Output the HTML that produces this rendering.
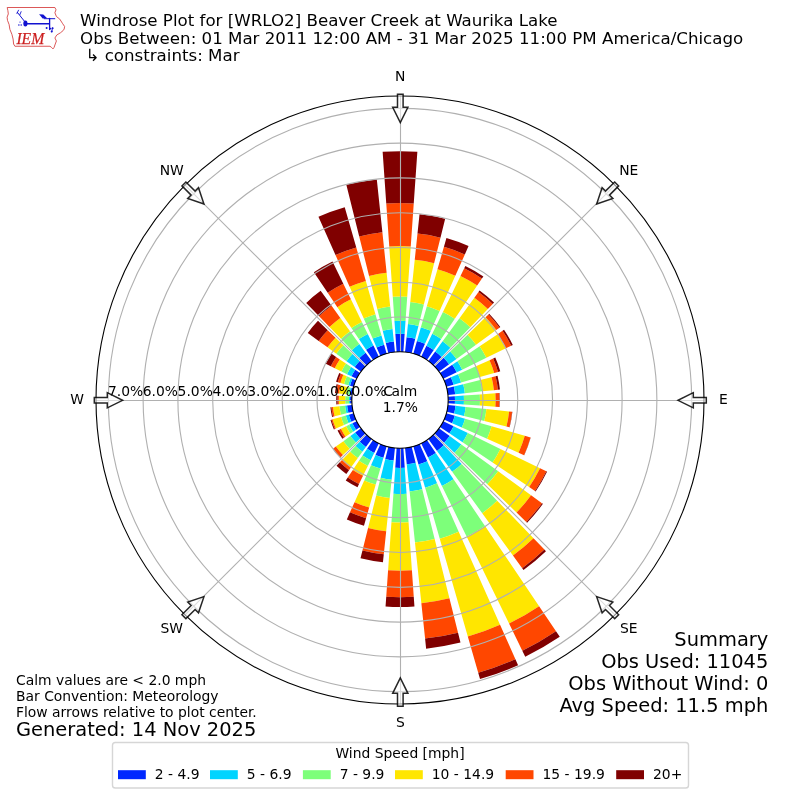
<!DOCTYPE html>
<html lang="en"><head><meta charset="utf-8"><title>Windrose Plot for [WRLO2] Beaver Creek at Waurika Lake</title>
<style>
html,body{margin:0;padding:0;background:#fff;}
body{width:800px;height:800px;overflow:hidden;}
svg{display:block;}
text{font-family:"DejaVu Sans","Liberation Sans",sans-serif;fill:#000;}
.t12{font-size:16.67px;}
.t10{font-size:13.89px;}
.t14{font-size:19.44px;}
.grid{fill:none;stroke:#b0b0b0;stroke-width:1.11;}
.spine{fill:none;stroke:#000;stroke-width:1.11;}
.arrow{fill:#fff;fill-opacity:.55;stroke:#000;stroke-opacity:.85;stroke-width:1.5;stroke-linejoin:miter;}
</style></head><body>
<svg width="800" height="800" viewBox="0 0 800 800">
<rect width="800" height="800" fill="#fff"/>

<g id="logo">
<path d="M7.2 7.5L54.9 7.5L56 9.75L54.9 12.75L56.4 16.5L59.75 19.1L62.4 23.25L64.6 26.5L64.2 29L63.2 30.5L60.5 32.75L56.75 35L54.9 38L56.4 41L55.25 44L54.1 47.4L53 48.9L51.5 47.4L50 46.25L14.9 46.25L13.6 44L13.1 39.1L11.9 34.3L9.9 29.4L9.1 24.5L7.5 20.4L7.1 17.2L8.3 13.9L7.9 10.7Z" fill="none" stroke="#d43a3a" stroke-width="0.85" stroke-linejoin="round"/>
<path d="M26.5 23.8L49.3 23.8" stroke="#1212d0" stroke-width="1.4" fill="none" stroke-linecap="round"/>
<path d="M24.4 21.2L17.4 12.4" stroke="#1212d0" stroke-width="1.0" fill="none" stroke-linecap="round"/>
<path d="M17.4 12.4L16.9 13.6" stroke="#1212d0" stroke-width="0.8" fill="none" stroke-linecap="round"/>
<path d="M17.4 12.4L18.5 10.2" stroke="#1212d0" stroke-width="0.9" fill="none" stroke-linecap="round"/>
<path d="M19.9 14.6L21.1 11.7" stroke="#1212d0" stroke-width="0.9" fill="none" stroke-linecap="round"/>
<ellipse cx="25.4" cy="23.5" rx="2.1" ry="3" fill="#1212d0"/>
<path d="M49.6 18.3L49.6 29.5" stroke="#1212d0" stroke-width="1.3" fill="none" stroke-linecap="round"/>
<path d="M44.2 18.7L54.8 18.7" stroke="#1212d0" stroke-width="1.0" fill="none" stroke-linecap="round"/>
<path d="M39.1 14.2L43.3 14.6L47.2 18.2L42.6 18.5Z" fill="#1212d0"/>
<circle cx="20" cy="22.1" r="0.55" fill="#1212d0"/>
<circle cx="18.9" cy="25.1" r="0.75" fill="#1212d0"/>
<circle cx="21.2" cy="25.1" r="0.75" fill="#1212d0"/>
<circle cx="46.6" cy="27.9" r="1.0" fill="#1212d0"/>
<circle cx="50.4" cy="28.6" r="0.9" fill="#1212d0"/>
<circle cx="52.6" cy="28.3" r="1.0" fill="#1212d0"/>
<circle cx="51.7" cy="31.6" r="1.0" fill="#1212d0"/>
<path d="M52.4 28L51.8 31.8" stroke="#1212d0" stroke-width="0.9" fill="none" stroke-linecap="round"/>
<text x="16.4" y="43.8" textLength="27.9" lengthAdjust="spacingAndGlyphs" style="font-family:'Liberation Serif',serif;font-style:italic;font-size:17.6px;fill:#cc1f1f;stroke:#cc1f1f;stroke-width:0.25">IEM</text>
</g>
<text class="t12" x="80.1" y="25.8">Windrose Plot for [WRLO2] Beaver Creek at Waurika Lake</text>
<text class="t12" x="80.1" y="43.6">Obs Between: 01 Mar 2011 12:00 AM - 31 Mar 2025 11:00 PM America/Chicago</text>
<text class="t12" x="80.1" y="60.6" style="white-space:pre"> ↳ constraints: Mar</text>
<g id="bars">
<path d="M396.64 351.92L395.38 333.96A66.20 66.20 0 0 1 404.62 333.96L403.36 351.92A48.20 48.20 0 0 0 396.64 351.92Z" fill="#0028ff"/>
<path d="M395.38 333.96L394.47 320.89A79.30 79.30 0 0 1 405.53 320.89L404.62 333.96A66.20 66.20 0 0 0 395.38 333.96Z" fill="#00d4ff"/>
<path d="M394.47 320.89L392.78 296.75A103.50 103.50 0 0 1 407.22 296.75L405.53 320.89A79.30 79.30 0 0 0 394.47 320.89Z" fill="#7dff7a"/>
<path d="M392.78 296.75L389.26 246.47A153.90 153.90 0 0 1 410.74 246.47L407.22 296.75A103.50 103.50 0 0 0 392.78 296.75Z" fill="#ffe600"/>
<path d="M389.26 246.47L386.26 203.58A196.90 196.90 0 0 1 413.74 203.58L410.74 246.47A153.90 153.90 0 0 0 389.26 246.47Z" fill="#ff4700"/>
<path d="M386.26 203.58L382.64 151.81A248.80 248.80 0 0 1 417.36 151.81L413.74 203.58A196.90 196.90 0 0 0 386.26 203.58Z" fill="#800000"/>
<path d="M405.04 352.06L406.59 337.35A63.00 63.00 0 0 1 415.24 338.87L411.66 353.23A48.20 48.20 0 0 0 405.04 352.06Z" fill="#0028ff"/>
<path d="M406.59 337.35L407.98 324.12A76.30 76.30 0 0 1 418.46 325.97L415.24 338.87A63.00 63.00 0 0 0 406.59 337.35Z" fill="#00d4ff"/>
<path d="M407.98 324.12L410.30 302.04A98.50 98.50 0 0 1 423.83 304.43L418.46 325.97A76.30 76.30 0 0 0 407.98 324.12Z" fill="#7dff7a"/>
<path d="M410.30 302.04L414.74 259.77A141.00 141.00 0 0 1 434.11 263.19L423.83 304.43A98.50 98.50 0 0 0 410.30 302.04Z" fill="#ffe600"/>
<path d="M414.74 259.77L417.49 233.62A167.30 167.30 0 0 1 440.47 237.67L434.11 263.19A141.00 141.00 0 0 0 414.74 259.77Z" fill="#ff4700"/>
<path d="M417.49 233.62L419.52 214.32A186.70 186.70 0 0 1 445.17 218.85L440.47 237.67A167.30 167.30 0 0 0 417.49 233.62Z" fill="#800000"/>
<path d="M413.29 353.67L416.95 340.88A61.50 61.50 0 0 1 425.01 343.82L419.60 355.97A48.20 48.20 0 0 0 413.29 353.67Z" fill="#0028ff"/>
<path d="M416.95 340.88L420.89 327.14A75.80 75.80 0 0 1 430.83 330.75L425.01 343.82A61.50 61.50 0 0 0 416.95 340.88Z" fill="#00d4ff"/>
<path d="M420.89 327.14L426.85 306.37A97.40 97.40 0 0 1 439.62 311.02L430.83 330.75A75.80 75.80 0 0 0 420.89 327.14Z" fill="#7dff7a"/>
<path d="M426.85 306.37L437.49 269.27A136.00 136.00 0 0 1 455.32 275.76L439.62 311.02A97.40 97.40 0 0 0 426.85 306.37Z" fill="#ffe600"/>
<path d="M437.49 269.27L443.94 246.77A159.40 159.40 0 0 1 464.83 254.38L455.32 275.76A136.00 136.00 0 0 0 437.49 269.27Z" fill="#ff4700"/>
<path d="M443.94 246.77L446.44 238.03A168.50 168.50 0 0 1 468.54 246.07L464.83 254.38A159.40 159.40 0 0 0 443.94 246.77Z" fill="#800000"/>
<path d="M421.13 356.68L426.43 345.80A60.30 60.30 0 0 1 433.72 350.01L426.95 360.04A48.20 48.20 0 0 0 421.13 356.68Z" fill="#0028ff"/>
<path d="M426.43 345.80L432.26 333.85A73.60 73.60 0 0 1 441.16 338.98L433.72 350.01A60.30 60.30 0 0 0 426.43 345.80Z" fill="#00d4ff"/>
<path d="M432.26 333.85L442.96 311.92A98.00 98.00 0 0 1 454.80 318.75L441.16 338.98A73.60 73.60 0 0 0 432.26 333.85Z" fill="#7dff7a"/>
<path d="M442.96 311.92L460.50 275.97A138.00 138.00 0 0 1 477.17 285.59L454.80 318.75A98.00 98.00 0 0 0 442.96 311.92Z" fill="#ffe600"/>
<path d="M460.50 275.97L464.22 268.33A146.50 146.50 0 0 1 481.92 278.55L477.17 285.59A138.00 138.00 0 0 0 460.50 275.97Z" fill="#ff4700"/>
<path d="M464.22 268.33L465.36 265.99A149.10 149.10 0 0 1 483.38 276.39L481.92 278.55A146.50 146.50 0 0 0 464.22 268.33Z" fill="#800000"/>
<path d="M428.33 361.01L435.21 351.54A59.90 59.90 0 0 1 441.61 356.91L433.48 365.33A48.20 48.20 0 0 0 428.33 361.01Z" fill="#0028ff"/>
<path d="M435.21 351.54L442.61 341.35A72.50 72.50 0 0 1 450.36 347.85L441.61 356.91A59.90 59.90 0 0 0 435.21 351.54Z" fill="#00d4ff"/>
<path d="M442.61 341.35L459.48 318.13A101.20 101.20 0 0 1 470.30 327.20L450.36 347.85A72.50 72.50 0 0 0 442.61 341.35Z" fill="#7dff7a"/>
<path d="M459.48 318.13L474.35 297.66A126.50 126.50 0 0 1 487.87 309.00L470.30 327.20A101.20 101.20 0 0 0 459.48 318.13Z" fill="#ffe600"/>
<path d="M474.35 297.66L478.47 292.00A133.50 133.50 0 0 1 492.74 303.97L487.87 309.00A126.50 126.50 0 0 0 474.35 297.66Z" fill="#ff4700"/>
<path d="M478.47 292.00L479.59 290.46A135.40 135.40 0 0 1 494.06 302.60L492.74 303.97A133.50 133.50 0 0 0 478.47 292.00Z" fill="#800000"/>
<path d="M434.67 366.52L443.66 357.83A60.70 60.70 0 0 1 449.11 364.32L438.99 371.67A48.20 48.20 0 0 0 434.67 366.52Z" fill="#0028ff"/>
<path d="M443.66 357.83L450.21 351.51A69.80 69.80 0 0 1 456.47 358.97L449.11 364.32A60.70 60.70 0 0 0 443.66 357.83Z" fill="#00d4ff"/>
<path d="M450.21 351.51L467.62 334.70A94.00 94.00 0 0 1 476.05 344.75L456.47 358.97A69.80 69.80 0 0 0 450.21 351.51Z" fill="#7dff7a"/>
<path d="M467.62 334.70L485.60 317.34A119.00 119.00 0 0 1 496.27 330.05L476.05 344.75A94.00 94.00 0 0 0 467.62 334.70Z" fill="#ffe600"/>
<path d="M485.60 317.34L488.48 314.56A123.00 123.00 0 0 1 499.51 327.70L496.27 330.05A119.00 119.00 0 0 0 485.60 317.34Z" fill="#ff4700"/>
<path d="M488.48 314.56L489.20 313.86A124.00 124.00 0 0 1 500.32 327.11L499.51 327.70A123.00 123.00 0 0 0 488.48 314.56Z" fill="#800000"/>
<path d="M439.96 373.05L452.31 364.71A63.10 63.10 0 0 1 456.71 372.34L443.32 378.87A48.20 48.20 0 0 0 439.96 373.05Z" fill="#0028ff"/>
<path d="M452.31 364.71L457.37 361.30A69.20 69.20 0 0 1 462.20 369.66L456.71 372.34A63.10 63.10 0 0 0 452.31 364.71Z" fill="#00d4ff"/>
<path d="M457.37 361.30L479.67 346.26A96.10 96.10 0 0 1 486.37 357.87L462.20 369.66A69.20 69.20 0 0 0 457.37 361.30Z" fill="#7dff7a"/>
<path d="M479.67 346.26L497.66 334.13A117.80 117.80 0 0 1 505.88 348.36L486.37 357.87A96.10 96.10 0 0 0 479.67 346.26Z" fill="#ffe600"/>
<path d="M497.66 334.13L502.55 330.83A123.70 123.70 0 0 1 511.18 345.77L505.88 348.36A117.80 117.80 0 0 0 497.66 334.13Z" fill="#ff4700"/>
<path d="M502.55 330.83L504.04 329.82A125.50 125.50 0 0 1 512.80 344.98L511.18 345.77A123.70 123.70 0 0 0 502.55 330.83Z" fill="#800000"/>
<path d="M444.03 380.40L450.88 377.34A55.70 55.70 0 0 1 453.54 384.65L446.33 386.71A48.20 48.20 0 0 0 444.03 380.40Z" fill="#0028ff"/>
<path d="M450.88 377.34L458.10 374.13A63.60 63.60 0 0 1 461.14 382.47L453.54 384.65A55.70 55.70 0 0 0 450.88 377.34Z" fill="#00d4ff"/>
<path d="M458.10 374.13L475.92 366.20A83.10 83.10 0 0 1 479.88 377.09L461.14 382.47A63.60 63.60 0 0 0 458.10 374.13Z" fill="#7dff7a"/>
<path d="M475.92 366.20L489.53 360.14A98.00 98.00 0 0 1 494.20 372.99L479.88 377.09A83.10 83.10 0 0 0 475.92 366.20Z" fill="#ffe600"/>
<path d="M489.53 360.14L493.18 358.51A102.00 102.00 0 0 1 498.05 371.88L494.20 372.99A98.00 98.00 0 0 0 489.53 360.14Z" fill="#ff4700"/>
<path d="M493.18 358.51L495.28 357.58A104.30 104.30 0 0 1 500.26 371.25L498.05 371.88A102.00 102.00 0 0 0 493.18 358.51Z" fill="#800000"/>
<path d="M446.77 388.34L453.85 386.57A55.50 55.50 0 0 1 455.20 394.20L447.94 394.96A48.20 48.20 0 0 0 446.77 388.34Z" fill="#0028ff"/>
<path d="M453.85 386.57L463.26 384.23A65.20 65.20 0 0 1 464.84 393.18L455.20 394.20A55.50 55.50 0 0 0 453.85 386.57Z" fill="#00d4ff"/>
<path d="M463.26 384.23L480.15 380.02A82.60 82.60 0 0 1 482.15 391.37L464.84 393.18A65.20 65.20 0 0 0 463.26 384.23Z" fill="#7dff7a"/>
<path d="M480.15 380.02L491.60 377.16A94.40 94.40 0 0 1 493.88 390.13L482.15 391.37A82.60 82.60 0 0 0 480.15 380.02Z" fill="#ffe600"/>
<path d="M491.60 377.16L495.57 376.17A98.50 98.50 0 0 1 497.96 389.70L493.88 390.13A94.40 94.40 0 0 0 491.60 377.16Z" fill="#ff4700"/>
<path d="M495.57 376.17L497.51 375.69A100.50 100.50 0 0 1 499.95 389.49L497.96 389.70A98.50 98.50 0 0 0 495.57 376.17Z" fill="#800000"/>
<path d="M448.08 396.64L454.87 396.16A55.00 55.00 0 0 1 454.87 403.84L448.08 403.36A48.20 48.20 0 0 0 448.08 396.64Z" fill="#0028ff"/>
<path d="M454.87 396.16L463.84 395.54A64.00 64.00 0 0 1 463.84 404.46L454.87 403.84A55.00 55.00 0 0 0 454.87 396.16Z" fill="#00d4ff"/>
<path d="M463.84 395.54L479.81 394.42A80.00 80.00 0 0 1 479.81 405.58L463.84 404.46A64.00 64.00 0 0 0 463.84 395.54Z" fill="#7dff7a"/>
<path d="M479.81 394.42L495.37 393.33A95.60 95.60 0 0 1 495.37 406.67L479.81 405.58A80.00 80.00 0 0 0 479.81 394.42Z" fill="#ffe600"/>
<path d="M495.37 393.33L499.16 393.07A99.40 99.40 0 0 1 499.16 406.93L495.37 406.67A95.60 95.60 0 0 0 495.37 393.33Z" fill="#ff4700"/>
<path d="M499.16 393.07L499.56 393.04A99.80 99.80 0 0 1 499.56 406.96L499.16 406.93A99.40 99.40 0 0 0 499.16 393.07Z" fill="#800000"/>
<path d="M447.94 405.04L455.49 405.83A55.80 55.80 0 0 1 454.14 413.50L446.77 411.66A48.20 48.20 0 0 0 447.94 405.04Z" fill="#0028ff"/>
<path d="M455.49 405.83L465.64 406.90A66.00 66.00 0 0 1 464.04 415.97L454.14 413.50A55.80 55.80 0 0 0 455.49 405.83Z" fill="#00d4ff"/>
<path d="M465.64 406.90L486.42 409.08A86.90 86.90 0 0 1 484.32 421.02L464.04 415.97A66.00 66.00 0 0 0 465.64 406.90Z" fill="#7dff7a"/>
<path d="M486.42 409.08L509.10 411.47A109.70 109.70 0 0 1 506.44 426.54L484.32 421.02A86.90 86.90 0 0 0 486.42 409.08Z" fill="#ffe600"/>
<path d="M509.10 411.47L512.08 411.78A112.70 112.70 0 0 1 509.35 427.26L506.44 426.54A109.70 109.70 0 0 0 509.10 411.47Z" fill="#ff4700"/>
<path d="M512.08 411.78L512.38 411.81A113.00 113.00 0 0 1 509.64 427.34L509.35 427.26A112.70 112.70 0 0 0 512.08 411.78Z" fill="#800000"/>
<path d="M446.33 413.29L454.79 415.71A57.00 57.00 0 0 1 452.07 423.18L444.03 419.60A48.20 48.20 0 0 0 446.33 413.29Z" fill="#0028ff"/>
<path d="M454.79 415.71L465.08 418.66A67.70 67.70 0 0 1 461.85 427.54L452.07 423.18A57.00 57.00 0 0 0 454.79 415.71Z" fill="#00d4ff"/>
<path d="M465.08 418.66L491.61 426.27A95.30 95.30 0 0 1 487.06 438.76L461.85 427.54A67.70 67.70 0 0 0 465.08 418.66Z" fill="#7dff7a"/>
<path d="M491.61 426.27L524.77 435.78A129.80 129.80 0 0 1 518.58 452.79L487.06 438.76A95.30 95.30 0 0 0 491.61 426.27Z" fill="#ffe600"/>
<path d="M524.77 435.78L530.54 437.43A135.80 135.80 0 0 1 524.06 455.23L518.58 452.79A129.80 129.80 0 0 0 524.77 435.78Z" fill="#ff4700"/>
<path d="M530.54 437.43L530.73 437.49A136.00 136.00 0 0 1 524.24 455.32L524.06 455.23A135.80 135.80 0 0 0 530.54 437.43Z" fill="#800000"/>
<path d="M443.32 421.13L453.57 426.13A59.60 59.60 0 0 1 449.41 433.33L439.96 426.95A48.20 48.20 0 0 0 443.32 421.13Z" fill="#0028ff"/>
<path d="M453.57 426.13L467.86 433.10A75.50 75.50 0 0 1 462.59 442.22L449.41 433.33A59.60 59.60 0 0 0 453.57 426.13Z" fill="#00d4ff"/>
<path d="M467.86 433.10L500.40 448.97A111.70 111.70 0 0 1 492.60 462.46L462.59 442.22A75.50 75.50 0 0 0 467.86 433.10Z" fill="#7dff7a"/>
<path d="M500.40 448.97L540.03 468.30A155.80 155.80 0 0 1 529.16 487.12L492.60 462.46A111.70 111.70 0 0 0 500.40 448.97Z" fill="#ffe600"/>
<path d="M540.03 468.30L546.32 471.37A162.80 162.80 0 0 1 534.97 491.04L529.16 487.12A155.80 155.80 0 0 0 540.03 468.30Z" fill="#ff4700"/>
<path d="M546.32 471.37L547.04 471.72A163.60 163.60 0 0 1 535.63 491.48L534.97 491.04A162.80 162.80 0 0 0 546.32 471.37Z" fill="#800000"/>
<path d="M438.99 428.33L449.67 436.09A61.40 61.40 0 0 1 444.17 442.65L434.67 433.48A48.20 48.20 0 0 0 438.99 428.33Z" fill="#0028ff"/>
<path d="M449.67 436.09L461.32 444.55A75.80 75.80 0 0 1 454.53 452.66L444.17 442.65A61.40 61.40 0 0 0 449.67 436.09Z" fill="#00d4ff"/>
<path d="M461.32 444.55L498.21 471.36A121.40 121.40 0 0 1 487.33 484.33L454.53 452.66A75.80 75.80 0 0 0 461.32 444.55Z" fill="#7dff7a"/>
<path d="M498.21 471.36L531.06 495.22A162.00 162.00 0 0 1 516.53 512.53L487.33 484.33A121.40 121.40 0 0 0 498.21 471.36Z" fill="#ffe600"/>
<path d="M531.06 495.22L541.98 503.16A175.50 175.50 0 0 1 526.24 521.91L516.53 512.53A162.00 162.00 0 0 0 531.06 495.22Z" fill="#ff4700"/>
<path d="M541.98 503.16L542.95 503.86A176.70 176.70 0 0 1 527.11 522.75L526.24 521.91A175.50 175.50 0 0 0 541.98 503.16Z" fill="#800000"/>
<path d="M433.48 434.67L443.76 445.32A63.00 63.00 0 0 1 437.03 450.97L428.33 438.99A48.20 48.20 0 0 0 433.48 434.67Z" fill="#0028ff"/>
<path d="M443.76 445.32L461.69 463.88A88.80 88.80 0 0 1 452.20 471.84L437.03 450.97A63.00 63.00 0 0 0 443.76 445.32Z" fill="#00d4ff"/>
<path d="M461.69 463.88L497.18 500.64A139.90 139.90 0 0 1 482.23 513.18L452.20 471.84A88.80 88.80 0 0 0 461.69 463.88Z" fill="#7dff7a"/>
<path d="M497.18 500.64L533.51 538.26A192.20 192.20 0 0 1 512.97 555.49L482.23 513.18A139.90 139.90 0 0 0 497.18 500.64Z" fill="#ffe600"/>
<path d="M533.51 538.26L544.42 549.55A207.90 207.90 0 0 1 522.20 568.19L512.97 555.49A192.20 192.20 0 0 0 533.51 538.26Z" fill="#ff4700"/>
<path d="M544.42 549.55L545.95 551.13A210.10 210.10 0 0 1 523.49 569.97L522.20 568.19A207.90 207.90 0 0 0 544.42 549.55Z" fill="#800000"/>
<path d="M426.95 439.96L435.79 453.06A64.00 64.00 0 0 1 428.06 457.52L421.13 443.32A48.20 48.20 0 0 0 426.95 439.96Z" fill="#0028ff"/>
<path d="M435.79 453.06L453.51 479.34A95.70 95.70 0 0 1 441.95 486.01L428.06 457.52A64.00 64.00 0 0 0 435.79 453.06Z" fill="#00d4ff"/>
<path d="M453.51 479.34L485.00 526.01A152.00 152.00 0 0 1 466.63 536.62L441.95 486.01A95.70 95.70 0 0 0 453.51 479.34Z" fill="#7dff7a"/>
<path d="M485.00 526.01L539.13 606.26A248.80 248.80 0 0 1 509.07 623.62L466.63 536.62A152.00 152.00 0 0 0 485.00 526.01Z" fill="#ffe600"/>
<path d="M539.13 606.26L556.01 631.30A279.00 279.00 0 0 1 522.31 650.76L509.07 623.62A248.80 248.80 0 0 0 539.13 606.26Z" fill="#ff4700"/>
<path d="M556.01 631.30L559.76 636.86A285.70 285.70 0 0 1 525.24 656.79L522.31 650.76A279.00 279.00 0 0 0 556.01 631.30Z" fill="#800000"/>
<path d="M419.60 444.03L427.25 461.21A67.00 67.00 0 0 1 418.47 464.40L413.29 446.33A48.20 48.20 0 0 0 419.60 444.03Z" fill="#0028ff"/>
<path d="M427.25 461.21L437.09 483.32A91.20 91.20 0 0 1 425.14 487.67L418.47 464.40A67.00 67.00 0 0 0 427.25 461.21Z" fill="#00d4ff"/>
<path d="M437.09 483.32L458.69 531.82A144.30 144.30 0 0 1 439.77 538.71L425.14 487.67A91.20 91.20 0 0 0 437.09 483.32Z" fill="#7dff7a"/>
<path d="M458.69 531.82L500.06 624.73A246.00 246.00 0 0 1 467.81 636.47L439.77 538.71A144.30 144.30 0 0 0 458.69 531.82Z" fill="#ffe600"/>
<path d="M500.06 624.73L515.43 659.26A283.80 283.80 0 0 1 478.23 672.81L467.81 636.47A246.00 246.00 0 0 0 500.06 624.73Z" fill="#ff4700"/>
<path d="M515.43 659.26L518.08 665.20A290.30 290.30 0 0 1 480.02 679.05L478.23 672.81A283.80 283.80 0 0 0 515.43 659.26Z" fill="#800000"/>
<path d="M411.66 446.77L415.63 462.68A64.60 64.60 0 0 1 406.75 464.25L405.04 447.94A48.20 48.20 0 0 0 411.66 446.77Z" fill="#0028ff"/>
<path d="M415.63 462.68L422.26 489.27A92.00 92.00 0 0 1 409.62 491.50L406.75 464.25A64.60 64.60 0 0 0 415.63 462.68Z" fill="#00d4ff"/>
<path d="M422.26 489.27L434.67 539.04A143.30 143.30 0 0 1 414.98 542.51L409.62 491.50A92.00 92.00 0 0 0 422.26 489.27Z" fill="#7dff7a"/>
<path d="M434.67 539.04L449.42 598.23A204.30 204.30 0 0 1 421.36 603.18L414.98 542.51A143.30 143.30 0 0 0 434.67 539.04Z" fill="#ffe600"/>
<path d="M449.42 598.23L458.04 632.77A239.90 239.90 0 0 1 425.08 638.59L421.36 603.18A204.30 204.30 0 0 0 449.42 598.23Z" fill="#ff4700"/>
<path d="M458.04 632.77L460.48 642.57A250.00 250.00 0 0 1 426.13 648.63L425.08 638.59A239.90 239.90 0 0 0 458.04 632.77Z" fill="#800000"/>
<path d="M403.36 448.08L404.74 467.83A68.00 68.00 0 0 1 395.26 467.83L396.64 448.08A48.20 48.20 0 0 0 403.36 448.08Z" fill="#0028ff"/>
<path d="M404.74 467.83L406.56 493.77A94.00 94.00 0 0 1 393.44 493.77L395.26 467.83A68.00 68.00 0 0 0 404.74 467.83Z" fill="#00d4ff"/>
<path d="M406.56 493.77L408.55 522.20A122.50 122.50 0 0 1 391.45 522.20L393.44 493.77A94.00 94.00 0 0 0 406.56 493.77Z" fill="#7dff7a"/>
<path d="M408.55 522.20L411.91 570.33A170.75 170.75 0 0 1 388.09 570.33L391.45 522.20A122.50 122.50 0 0 0 408.55 522.20Z" fill="#ffe600"/>
<path d="M411.91 570.33L413.76 596.72A197.20 197.20 0 0 1 386.24 596.72L388.09 570.33A170.75 170.75 0 0 0 411.91 570.33Z" fill="#ff4700"/>
<path d="M413.76 596.72L414.45 606.60A207.10 207.10 0 0 1 385.55 606.60L386.24 596.72A197.20 197.20 0 0 0 413.76 596.72Z" fill="#800000"/>
<path d="M394.96 447.94L393.63 460.57A60.90 60.90 0 0 1 385.27 459.09L388.34 446.77A48.20 48.20 0 0 0 394.96 447.94Z" fill="#0028ff"/>
<path d="M393.63 460.57L391.62 479.76A80.20 80.20 0 0 1 380.60 477.82L385.27 459.09A60.90 60.90 0 0 0 393.63 460.57Z" fill="#00d4ff"/>
<path d="M391.62 479.76L389.70 497.96A98.50 98.50 0 0 1 376.17 495.57L380.60 477.82A80.20 80.20 0 0 0 391.62 479.76Z" fill="#7dff7a"/>
<path d="M389.70 497.96L386.20 531.28A132.00 132.00 0 0 1 368.07 528.08L376.17 495.57A98.50 98.50 0 0 0 389.70 497.96Z" fill="#ffe600"/>
<path d="M386.20 531.28L383.78 554.35A155.20 155.20 0 0 1 362.45 550.59L368.07 528.08A132.00 132.00 0 0 0 386.20 531.28Z" fill="#ff4700"/>
<path d="M383.78 554.35L382.94 562.31A163.20 163.20 0 0 1 360.52 558.35L362.45 550.59A155.20 155.20 0 0 0 383.78 554.35Z" fill="#800000"/>
<path d="M386.71 446.33L383.41 457.87A60.20 60.20 0 0 1 375.51 455.00L380.40 444.03A48.20 48.20 0 0 0 386.71 446.33Z" fill="#0028ff"/>
<path d="M383.41 457.87L380.35 468.54A71.30 71.30 0 0 1 371.00 465.14L375.51 455.00A60.20 60.20 0 0 0 383.41 457.87Z" fill="#00d4ff"/>
<path d="M380.35 468.54L375.74 484.59A88.00 88.00 0 0 1 364.21 480.39L371.00 465.14A71.30 71.30 0 0 0 380.35 468.54Z" fill="#7dff7a"/>
<path d="M375.74 484.59L369.18 507.47A111.80 111.80 0 0 1 354.53 502.13L364.21 480.39A88.00 88.00 0 0 0 375.74 484.59Z" fill="#ffe600"/>
<path d="M369.18 507.47L366.10 518.24A123.00 123.00 0 0 1 349.97 512.37L354.53 502.13A111.80 111.80 0 0 0 369.18 507.47Z" fill="#ff4700"/>
<path d="M366.10 518.24L363.97 525.64A130.70 130.70 0 0 1 346.84 519.40L349.97 512.37A123.00 123.00 0 0 0 366.10 518.24Z" fill="#800000"/>
<path d="M378.87 443.32L374.18 452.94A58.90 58.90 0 0 1 367.06 448.83L373.05 439.96A48.20 48.20 0 0 0 378.87 443.32Z" fill="#0028ff"/>
<path d="M374.18 452.94L370.63 460.22A67.00 67.00 0 0 1 362.53 455.55L367.06 448.83A58.90 58.90 0 0 0 374.18 452.94Z" fill="#00d4ff"/>
<path d="M370.63 460.22L367.82 465.97A73.40 73.40 0 0 1 358.96 460.85L362.53 455.55A67.00 67.00 0 0 0 370.63 460.22Z" fill="#7dff7a"/>
<path d="M367.82 465.97L363.05 475.77A84.30 84.30 0 0 1 352.86 469.89L358.96 460.85A73.40 73.40 0 0 0 367.82 465.97Z" fill="#ffe600"/>
<path d="M363.05 475.77L359.01 484.04A93.50 93.50 0 0 1 347.72 477.52L352.86 469.89A84.30 84.30 0 0 0 363.05 475.77Z" fill="#ff4700"/>
<path d="M359.01 484.04L357.48 487.18A97.00 97.00 0 0 1 345.76 480.42L347.72 477.52A93.50 93.50 0 0 0 359.01 484.04Z" fill="#800000"/>
<path d="M371.67 438.99L365.91 446.92A58.00 58.00 0 0 1 359.71 441.72L366.52 434.67A48.20 48.20 0 0 0 371.67 438.99Z" fill="#0028ff"/>
<path d="M365.91 446.92L362.38 451.78A64.00 64.00 0 0 1 355.54 446.04L359.71 441.72A58.00 58.00 0 0 0 365.91 446.92Z" fill="#00d4ff"/>
<path d="M362.38 451.78L357.80 458.09A71.80 71.80 0 0 1 350.12 451.65L355.54 446.04A64.00 64.00 0 0 0 362.38 451.78Z" fill="#7dff7a"/>
<path d="M357.80 458.09L350.92 467.55A83.50 83.50 0 0 1 342.00 460.06L350.12 451.65A71.80 71.80 0 0 0 357.80 458.09Z" fill="#ffe600"/>
<path d="M350.92 467.55L349.04 470.14A86.70 86.70 0 0 1 339.77 462.37L342.00 460.06A83.50 83.50 0 0 0 350.92 467.55Z" fill="#ff4700"/>
<path d="M349.04 470.14L346.28 473.94A91.40 91.40 0 0 1 336.51 465.75L339.77 462.37A86.70 86.70 0 0 0 349.04 470.14Z" fill="#800000"/>
<path d="M365.33 433.48L360.15 438.48A55.40 55.40 0 0 1 355.18 432.56L361.01 428.33A48.20 48.20 0 0 0 365.33 433.48Z" fill="#0028ff"/>
<path d="M360.15 438.48L355.90 442.58A61.30 61.30 0 0 1 350.41 436.03L355.18 432.56A55.40 55.40 0 0 0 360.15 438.48Z" fill="#00d4ff"/>
<path d="M355.90 442.58L349.65 448.63A70.00 70.00 0 0 1 343.37 441.14L350.41 436.03A61.30 61.30 0 0 0 355.90 442.58Z" fill="#7dff7a"/>
<path d="M349.65 448.63L342.96 455.09A79.30 79.30 0 0 1 335.84 446.61L343.37 441.14A70.00 70.00 0 0 0 349.65 448.63Z" fill="#ffe600"/>
<path d="M342.96 455.09L340.44 457.52A82.80 82.80 0 0 1 333.01 448.67L335.84 446.61A79.30 79.30 0 0 0 342.96 455.09Z" fill="#ff4700"/>
<path d="M340.44 457.52L340.22 457.73A83.10 83.10 0 0 1 332.77 448.84L333.01 448.67A82.80 82.80 0 0 0 340.44 457.52Z" fill="#800000"/>
<path d="M360.04 426.95L356.06 429.64A53.00 53.00 0 0 1 352.36 423.23L356.68 421.13A48.20 48.20 0 0 0 360.04 426.95Z" fill="#0028ff"/>
<path d="M356.06 429.64L353.08 431.65A56.60 56.60 0 0 1 349.13 424.81L352.36 423.23A53.00 53.00 0 0 0 356.06 429.64Z" fill="#00d4ff"/>
<path d="M353.08 431.65L350.26 433.55A60.00 60.00 0 0 1 346.07 426.30L349.13 424.81A56.60 56.60 0 0 0 353.08 431.65Z" fill="#7dff7a"/>
<path d="M350.26 433.55L345.53 436.74A65.70 65.70 0 0 1 340.95 428.80L346.07 426.30A60.00 60.00 0 0 0 350.26 433.55Z" fill="#ffe600"/>
<path d="M345.53 436.74L343.96 437.80A67.60 67.60 0 0 1 339.24 429.63L340.95 428.80A65.70 65.70 0 0 0 345.53 436.74Z" fill="#ff4700"/>
<path d="M343.96 437.80L342.38 438.86A69.50 69.50 0 0 1 337.53 430.47L339.24 429.63A67.60 67.60 0 0 0 343.96 437.80Z" fill="#800000"/>
<path d="M355.97 419.60L351.40 421.64A53.20 53.20 0 0 1 348.86 414.66L353.67 413.29A48.20 48.20 0 0 0 355.97 419.60Z" fill="#0028ff"/>
<path d="M351.40 421.64L348.48 422.94A56.40 56.40 0 0 1 345.78 415.55L348.86 414.66A53.20 53.20 0 0 0 351.40 421.64Z" fill="#00d4ff"/>
<path d="M348.48 422.94L344.00 424.93A61.30 61.30 0 0 1 341.07 416.90L345.78 415.55A56.40 56.40 0 0 0 348.48 422.94Z" fill="#7dff7a"/>
<path d="M344.00 424.93L335.87 428.55A70.20 70.20 0 0 1 332.52 419.35L341.07 416.90A61.30 61.30 0 0 0 344.00 424.93Z" fill="#ffe600"/>
<path d="M335.87 428.55L334.86 429.00A71.30 71.30 0 0 1 331.46 419.65L332.52 419.35A70.20 70.20 0 0 0 335.87 428.55Z" fill="#ff4700"/>
<path d="M334.86 429.00L333.95 429.41A72.30 72.30 0 0 1 330.50 419.93L331.46 419.65A71.30 71.30 0 0 0 334.86 429.00Z" fill="#800000"/>
<path d="M353.23 411.66L348.38 412.87A53.20 53.20 0 0 1 347.09 405.56L352.06 405.04A48.20 48.20 0 0 0 353.23 411.66Z" fill="#0028ff"/>
<path d="M348.38 412.87L346.44 413.35A55.20 55.20 0 0 1 345.10 405.77L347.09 405.56A53.20 53.20 0 0 0 348.38 412.87Z" fill="#00d4ff"/>
<path d="M346.44 413.35L340.91 414.73A60.90 60.90 0 0 1 339.43 406.37L345.10 405.77A55.20 55.20 0 0 0 346.44 413.35Z" fill="#7dff7a"/>
<path d="M340.91 414.73L334.60 416.31A67.40 67.40 0 0 1 332.97 407.05L339.43 406.37A60.90 60.90 0 0 0 340.91 414.73Z" fill="#ffe600"/>
<path d="M334.60 416.31L333.05 416.69A69.00 69.00 0 0 1 331.38 407.21L332.97 407.05A67.40 67.40 0 0 0 334.60 416.31Z" fill="#ff4700"/>
<path d="M333.05 416.69L332.08 416.93A70.00 70.00 0 0 1 330.38 407.32L331.38 407.21A69.00 69.00 0 0 0 333.05 416.69Z" fill="#800000"/>
<path d="M351.92 403.36L350.12 403.49A50.00 50.00 0 0 1 350.12 396.51L351.92 396.64A48.20 48.20 0 0 0 351.92 403.36Z" fill="#0028ff"/>
<path d="M350.12 403.49L349.12 403.56A51.00 51.00 0 0 1 349.12 396.44L350.12 396.51A50.00 50.00 0 0 0 350.12 403.49Z" fill="#00d4ff"/>
<path d="M349.12 403.56L345.33 403.82A54.80 54.80 0 0 1 345.33 396.18L349.12 396.44A51.00 51.00 0 0 0 349.12 403.56Z" fill="#7dff7a"/>
<path d="M345.33 403.82L338.95 404.27A61.20 61.20 0 0 1 338.95 395.73L345.33 396.18A54.80 54.80 0 0 0 345.33 403.82Z" fill="#ffe600"/>
<path d="M338.95 404.27L337.65 404.36A62.50 62.50 0 0 1 337.65 395.64L338.95 395.73A61.20 61.20 0 0 0 338.95 404.27Z" fill="#ff4700"/>
<path d="M337.65 404.36L336.36 404.45A63.80 63.80 0 0 1 336.36 395.55L337.65 395.64A62.50 62.50 0 0 0 337.65 404.36Z" fill="#800000"/>
<path d="M352.06 394.96L350.27 394.77A50.00 50.00 0 0 1 351.49 387.90L353.23 388.34A48.20 48.20 0 0 0 352.06 394.96Z" fill="#0028ff"/>
<path d="M350.27 394.77L349.28 394.67A51.00 51.00 0 0 1 350.51 387.66L351.49 387.90A50.00 50.00 0 0 0 350.27 394.77Z" fill="#00d4ff"/>
<path d="M349.28 394.67L346.20 394.35A54.10 54.10 0 0 1 347.51 386.91L350.51 387.66A51.00 51.00 0 0 0 349.28 394.67Z" fill="#7dff7a"/>
<path d="M346.20 394.35L338.94 393.58A61.40 61.40 0 0 1 340.42 385.15L347.51 386.91A54.10 54.10 0 0 0 346.20 394.35Z" fill="#ffe600"/>
<path d="M338.94 393.58L336.35 393.31A64.00 64.00 0 0 1 337.90 384.52L340.42 385.15A61.40 61.40 0 0 0 338.94 393.58Z" fill="#ff4700"/>
<path d="M336.35 393.31L334.96 393.16A65.40 65.40 0 0 1 336.54 384.18L337.90 384.52A64.00 64.00 0 0 0 336.35 393.31Z" fill="#800000"/>
<path d="M353.67 386.71L350.01 385.67A52.00 52.00 0 0 1 352.50 378.85L355.97 380.40A48.20 48.20 0 0 0 353.67 386.71Z" fill="#0028ff"/>
<path d="M350.01 385.67L348.19 385.14A53.90 53.90 0 0 1 350.76 378.08L352.50 378.85A52.00 52.00 0 0 0 350.01 385.67Z" fill="#00d4ff"/>
<path d="M348.19 385.14L344.05 383.96A58.20 58.20 0 0 1 346.83 376.33L350.76 378.08A53.90 53.90 0 0 0 348.19 385.14Z" fill="#7dff7a"/>
<path d="M344.05 383.96L340.40 382.91A62.00 62.00 0 0 1 343.36 374.78L346.83 376.33A58.20 58.20 0 0 0 344.05 383.96Z" fill="#ffe600"/>
<path d="M340.40 382.91L337.81 382.17A64.70 64.70 0 0 1 340.89 373.68L343.36 374.78A62.00 62.00 0 0 0 340.40 382.91Z" fill="#ff4700"/>
<path d="M337.81 382.17L336.08 381.67A66.50 66.50 0 0 1 339.25 372.95L340.89 373.68A64.70 64.70 0 0 0 337.81 382.17Z" fill="#800000"/>
<path d="M356.68 378.87L351.47 376.33A54.00 54.00 0 0 1 355.23 369.80L360.04 373.05A48.20 48.20 0 0 0 356.68 378.87Z" fill="#0028ff"/>
<path d="M351.47 376.33L346.97 374.14A59.00 59.00 0 0 1 351.09 367.01L355.23 369.80A54.00 54.00 0 0 0 351.47 376.33Z" fill="#00d4ff"/>
<path d="M346.97 374.14L341.40 371.42A65.20 65.20 0 0 1 345.95 363.54L351.09 367.01A59.00 59.00 0 0 0 346.97 374.14Z" fill="#7dff7a"/>
<path d="M341.40 371.42L334.75 368.17A72.60 72.60 0 0 1 339.81 359.40L345.95 363.54A65.20 65.20 0 0 0 341.40 371.42Z" fill="#ffe600"/>
<path d="M334.75 368.17L330.79 366.25A77.00 77.00 0 0 1 336.16 356.94L339.81 359.40A72.60 72.60 0 0 0 334.75 368.17Z" fill="#ff4700"/>
<path d="M330.79 366.25L325.76 363.79A82.60 82.60 0 0 1 331.52 353.81L336.16 356.94A77.00 77.00 0 0 0 330.79 366.25Z" fill="#800000"/>
<path d="M361.01 371.67L354.70 367.08A56.00 56.00 0 0 1 359.72 361.10L365.33 366.52A48.20 48.20 0 0 0 361.01 371.67Z" fill="#0028ff"/>
<path d="M354.70 367.08L346.52 361.15A66.10 66.10 0 0 1 352.45 354.08L359.72 361.10A56.00 56.00 0 0 0 354.70 367.08Z" fill="#00d4ff"/>
<path d="M346.52 361.15L336.25 353.68A78.80 78.80 0 0 1 343.32 345.26L352.45 354.08A66.10 66.10 0 0 0 346.52 361.15Z" fill="#7dff7a"/>
<path d="M336.25 353.68L327.51 347.33A89.60 89.60 0 0 1 335.55 337.76L343.32 345.26A78.80 78.80 0 0 0 336.25 353.68Z" fill="#ffe600"/>
<path d="M327.51 347.33L318.69 340.93A100.50 100.50 0 0 1 327.71 330.19L335.55 337.76A89.60 89.60 0 0 0 327.51 347.33Z" fill="#ff4700"/>
<path d="M318.69 340.93L307.77 332.99A114.00 114.00 0 0 1 318.00 320.81L327.71 330.19A100.50 100.50 0 0 0 318.69 340.93Z" fill="#800000"/>
<path d="M366.52 365.33L359.36 357.92A58.50 58.50 0 0 1 365.61 352.67L371.67 361.01A48.20 48.20 0 0 0 366.52 365.33Z" fill="#0028ff"/>
<path d="M359.36 357.92L351.86 350.15A69.30 69.30 0 0 1 359.27 343.94L365.61 352.67A58.50 58.50 0 0 0 359.36 357.92Z" fill="#00d4ff"/>
<path d="M351.86 350.15L340.95 338.86A85.00 85.00 0 0 1 350.04 331.23L359.27 343.94A69.30 69.30 0 0 0 351.86 350.15Z" fill="#7dff7a"/>
<path d="M340.95 338.86L329.49 326.99A101.50 101.50 0 0 1 340.34 317.88L350.04 331.23A85.00 85.00 0 0 0 340.95 338.86Z" fill="#ffe600"/>
<path d="M329.49 326.99L319.14 316.27A116.40 116.40 0 0 1 331.58 305.83L340.34 317.88A101.50 101.50 0 0 0 329.49 326.99Z" fill="#ff4700"/>
<path d="M319.14 316.27L306.22 302.89A135.00 135.00 0 0 1 320.65 290.78L331.58 305.83A116.40 116.40 0 0 0 319.14 316.27Z" fill="#800000"/>
<path d="M373.05 360.04L366.11 349.76A60.60 60.60 0 0 1 373.43 345.53L378.87 356.68A48.20 48.20 0 0 0 373.05 360.04Z" fill="#0028ff"/>
<path d="M366.11 349.76L358.90 339.07A73.50 73.50 0 0 1 367.78 333.94L373.43 345.53A60.60 60.60 0 0 0 366.11 349.76Z" fill="#00d4ff"/>
<path d="M358.90 339.07L351.41 327.96A86.90 86.90 0 0 1 361.91 321.89L367.78 333.94A73.50 73.50 0 0 0 358.90 339.07Z" fill="#7dff7a"/>
<path d="M351.41 327.96L337.37 307.15A112.00 112.00 0 0 1 350.90 299.34L361.91 321.89A86.90 86.90 0 0 0 351.41 327.96Z" fill="#ffe600"/>
<path d="M337.37 307.15L327.70 292.81A129.30 129.30 0 0 1 343.32 283.79L350.90 299.34A112.00 112.00 0 0 0 337.37 307.15Z" fill="#ff4700"/>
<path d="M327.70 292.81L313.88 272.33A154.00 154.00 0 0 1 332.49 261.59L343.32 283.79A129.30 129.30 0 0 0 327.70 292.81Z" fill="#800000"/>
<path d="M380.40 355.97L376.57 347.38A57.60 57.60 0 0 1 384.12 344.63L386.71 353.67A48.20 48.20 0 0 0 380.40 355.97Z" fill="#0028ff"/>
<path d="M376.57 347.38L372.67 338.61A67.20 67.20 0 0 1 381.48 335.40L384.12 344.63A57.60 57.60 0 0 0 376.57 347.38Z" fill="#00d4ff"/>
<path d="M372.67 338.61L363.76 318.60A89.10 89.10 0 0 1 375.44 314.35L381.48 335.40A67.20 67.20 0 0 0 372.67 338.61Z" fill="#7dff7a"/>
<path d="M363.76 318.60L349.61 286.81A123.90 123.90 0 0 1 365.85 280.90L375.44 314.35A89.10 89.10 0 0 0 363.76 318.60Z" fill="#ffe600"/>
<path d="M349.61 286.81L335.49 255.11A158.60 158.60 0 0 1 356.28 247.54L365.85 280.90A123.90 123.90 0 0 0 349.61 286.81Z" fill="#ff4700"/>
<path d="M335.49 255.11L318.45 216.83A200.50 200.50 0 0 1 344.73 207.27L356.28 247.54A158.60 158.60 0 0 0 335.49 255.11Z" fill="#800000"/>
<path d="M388.34 353.23L385.80 343.04A58.70 58.70 0 0 1 393.86 341.62L394.96 352.06A48.20 48.20 0 0 0 388.34 353.23Z" fill="#0028ff"/>
<path d="M385.80 343.04L382.73 330.72A71.40 71.40 0 0 1 392.54 328.99L393.86 341.62A58.70 58.70 0 0 0 385.80 343.04Z" fill="#00d4ff"/>
<path d="M382.73 330.72L377.28 308.89A93.90 93.90 0 0 1 390.18 306.61L392.54 328.99A71.40 71.40 0 0 0 382.73 330.72Z" fill="#7dff7a"/>
<path d="M377.28 308.89L369.06 275.90A127.90 127.90 0 0 1 386.63 272.80L390.18 306.61A93.90 93.90 0 0 0 377.28 308.89Z" fill="#ffe600"/>
<path d="M369.06 275.90L359.21 236.41A168.60 168.60 0 0 1 382.38 232.32L386.63 272.80A127.90 127.90 0 0 0 369.06 275.90Z" fill="#ff4700"/>
<path d="M359.21 236.41L346.34 184.79A221.80 221.80 0 0 1 376.82 179.42L382.38 232.32A168.60 168.60 0 0 0 359.21 236.41Z" fill="#800000"/>
</g>
<g class="grid">
<circle cx="400.0" cy="400.0" r="82.98"/>
<circle cx="400.0" cy="400.0" r="117.76"/>
<circle cx="400.0" cy="400.0" r="152.54"/>
<circle cx="400.0" cy="400.0" r="187.32"/>
<circle cx="400.0" cy="400.0" r="222.10"/>
<circle cx="400.0" cy="400.0" r="256.88"/>
<circle cx="400.0" cy="400.0" r="291.66"/>
<path d="M400.50 351.80L400.50 96.00"/>
<path d="M434.08 365.92L614.96 185.04"/>
<path d="M448.20 400.50L704.00 400.50"/>
<path d="M434.08 434.08L614.96 614.96"/>
<path d="M400.50 448.20L400.50 704.00"/>
<path d="M365.92 434.08L185.04 614.96"/>
<path d="M351.80 400.50L96.00 400.50"/>
<path d="M365.92 365.92L185.04 185.04"/>
</g>
<circle class="spine" cx="400.0" cy="400.0" r="48.2"/>
<circle class="spine" cx="400.0" cy="400.0" r="304.0"/>
<g class="t10">
<text x="351.5" y="396.4">0.0%</text>
<text x="316.7" y="396.4">1.0%</text>
<text x="281.9" y="396.4">2.0%</text>
<text x="247.2" y="396.4">3.0%</text>
<text x="212.4" y="396.4">4.0%</text>
<text x="177.6" y="396.4">5.0%</text>
<text x="142.8" y="396.4">6.0%</text>
<text x="108.0" y="396.4">7.0%</text>
</g>
<g class="t10" text-anchor="middle"><text x="400.3" y="396.3">C<tspan dx="-1.4">alm</tspan></text><text x="400.3" y="412.4">1.7%</text></g>
<g class="t10" text-anchor="middle">
<text x="400.2" y="80.7">N</text>
<text x="628.8" y="175.4">NE</text>
<text x="723.5" y="403.9">E</text>
<text x="628.8" y="633.2">SE</text>
<text x="400.3" y="727.1">S</text>
<text x="171.7" y="633.2">SW</text>
<text x="77.1" y="403.9">W</text>
<text x="171.7" y="175.4">NW</text>
</g>
<g class="arrow">
<path d="M306.0 -2.8L293.0 -2.8L293.0 -7.6L277.7 0L293.0 7.6L293.0 2.8L306.0 2.8Z" transform="translate(400.3 400.3) rotate(-90)"/>
<path d="M306.0 -2.8L293.0 -2.8L293.0 -7.6L277.7 0L293.0 7.6L293.0 2.8L306.0 2.8Z" transform="translate(400.3 400.3) rotate(-45)"/>
<path d="M306.0 -2.8L293.0 -2.8L293.0 -7.6L277.7 0L293.0 7.6L293.0 2.8L306.0 2.8Z" transform="translate(400.3 400.3) rotate(0)"/>
<path d="M306.0 -2.8L293.0 -2.8L293.0 -7.6L277.7 0L293.0 7.6L293.0 2.8L306.0 2.8Z" transform="translate(400.3 400.3) rotate(45)"/>
<path d="M306.0 -2.8L293.0 -2.8L293.0 -7.6L277.7 0L293.0 7.6L293.0 2.8L306.0 2.8Z" transform="translate(400.3 400.3) rotate(90)"/>
<path d="M306.0 -2.8L293.0 -2.8L293.0 -7.6L277.7 0L293.0 7.6L293.0 2.8L306.0 2.8Z" transform="translate(400.3 400.3) rotate(135)"/>
<path d="M306.0 -2.8L293.0 -2.8L293.0 -7.6L277.7 0L293.0 7.6L293.0 2.8L306.0 2.8Z" transform="translate(400.3 400.3) rotate(180)"/>
<path d="M306.0 -2.8L293.0 -2.8L293.0 -7.6L277.7 0L293.0 7.6L293.0 2.8L306.0 2.8Z" transform="translate(400.3 400.3) rotate(225)"/>
</g>
<text class="t10" x="16" y="685.3">Calm values are &lt; 2.0 mph</text>
<text class="t10" x="16" y="701.3">Bar Convention: Meteorology</text>
<text class="t10" x="16" y="717.3">Flow arrows relative to plot center.</text>
<text class="t14" x="16" y="736.2">Generated: 14 Nov 2025</text>
<g class="t14" text-anchor="end">
<text x="768.3" y="645.9">Summary</text>
<text x="768.3" y="667.9">Obs Used: 11045</text>
<text x="768.3" y="689.9">Obs Without Wind: 0</text>
<text x="768.3" y="711.9">Avg Speed: 11.5 mph</text>
</g>
<rect x="112.5" y="742.5" width="576" height="45.5" rx="2.8" ry="2.8" fill="#fff" fill-opacity=".8" stroke="#ccc" stroke-opacity=".8" stroke-width="1.4"/>
<text class="t10" text-anchor="middle" x="400" y="758">Wind Speed [mph]</text>
<rect x="118" y="770.2" width="27.8" height="9" fill="#0028ff"/>
<text class="t10" x="154.8" y="779.3">2 - 4.9</text>
<rect x="210" y="770.2" width="27.8" height="9" fill="#00d4ff"/>
<text class="t10" x="246.8" y="779.3">5 - 6.9</text>
<rect x="302.9" y="770.2" width="27.8" height="9" fill="#7dff7a"/>
<text class="t10" x="339.7" y="779.3">7 - 9.9</text>
<rect x="395" y="770.2" width="27.8" height="9" fill="#ffe600"/>
<text class="t10" x="431.8" y="779.3">10 - 14.9</text>
<rect x="505.7" y="770.2" width="27.8" height="9" fill="#ff4700"/>
<text class="t10" x="542.5" y="779.3">15 - 19.9</text>
<rect x="616.2" y="770.2" width="27.8" height="9" fill="#800000"/>
<text class="t10" x="653.0" y="779.3">20+</text>
</svg></body></html>
